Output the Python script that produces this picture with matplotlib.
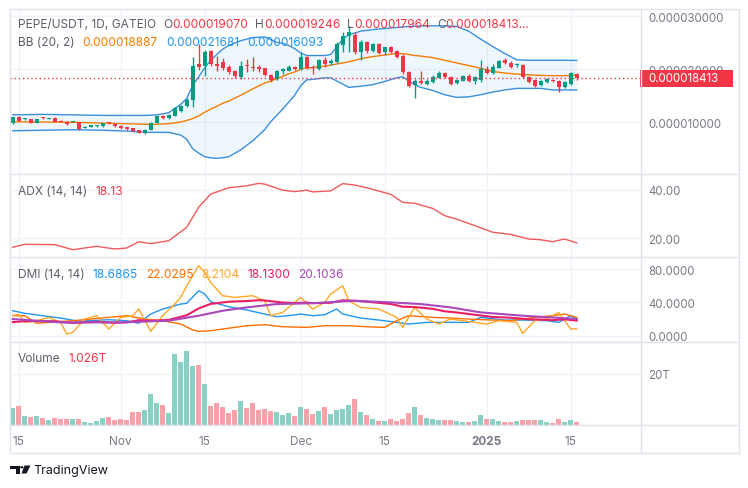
import matplotlib
matplotlib.use("Agg")
import matplotlib.pyplot as plt
import matplotlib.dates as mdates
from matplotlib.patches import Rectangle, Polygon, Circle
from matplotlib.lines import Line2D
from matplotlib.ticker import FuncFormatter
from datetime import date, timedelta

W, H = 748, 489
plt.rcParams['font.family'] = ['Inter', 'DejaVu Sans']

# ---- data (prices in units of 1e-6 USDT, volume in trillions) ----
start = date(2024, 10, 14)
dates = [start + timedelta(days=i) for i in range(95)]

opens = [9.81, 10.94, 10.55, 10.63, 9.94, 10.78, 10.70, 10.88, 10.31, 10.13,
         10.06, 10.00, 8.93, 9.20, 9.22, 9.25, 9.90, 9.75, 9.37, 9.12,
         8.87, 8.55, 7.92, 8.62, 9.94, 11.13, 10.82, 11.26, 12.14, 13.02,
         14.21, 20.95, 20.57, 23.40, 21.00, 21.30, 20.40, 19.75, 18.60, 20.70,
         20.50, 20.50, 20.19, 18.93, 18.10, 19.62, 19.75, 20.37, 20.06, 22.26,
         20.37, 20.06, 21.80, 21.20, 21.40, 24.60, 26.20, 26.48, 23.33, 25.10,
         23.50, 24.80, 23.20, 24.15, 23.50, 22.60, 19.56, 17.04, 17.86, 17.17,
         17.67, 18.43, 19.25, 18.50, 17.36, 17.86, 18.80, 17.80, 17.99, 20.06,
         19.25, 20.30, 21.70, 21.26, 20.85, 20.82, 18.50, 17.99, 17.04, 17.55,
         18.05, 17.80, 16.73, 17.17, 19.07]
closes = [10.94, 10.31, 10.63, 9.94, 10.63, 10.72, 10.78, 10.13, 10.06, 9.62,
          10.13, 8.74, 9.18, 9.25, 9.28, 9.87, 9.85, 9.25, 8.87, 8.68,
          8.30, 8.05, 8.62, 9.94, 11.13, 10.82, 11.45, 12.64, 13.14, 14.21,
          20.69, 20.40, 23.20, 21.00, 20.70, 20.20, 19.43, 18.68, 20.70, 20.57,
          20.30, 20.06, 18.93, 18.05, 19.62, 20.06, 20.50, 20.06, 22.40, 20.19,
          20.19, 21.80, 21.00, 21.60, 24.80, 26.35, 26.98, 23.20, 25.22, 23.40,
          24.80, 23.10, 24.15, 23.20, 22.40, 19.43, 16.92, 17.86, 17.36, 17.80,
          18.62, 19.31, 18.50, 17.23, 17.99, 18.80, 17.86, 18.62, 20.06, 19.25,
          20.50, 21.57, 21.20, 20.50, 20.95, 18.50, 17.67, 16.92, 17.80, 18.18,
          17.80, 16.60, 17.55, 19.25, 18.413]
highs = [11.00, 11.13, 10.75, 10.70, 10.70, 10.95, 10.90, 10.95, 10.40, 10.20,
         10.20, 10.10, 9.25, 9.35, 9.40, 9.95, 10.10, 9.82, 9.45, 9.20,
         8.95, 8.62, 8.70, 10.05, 11.20, 11.35, 11.55, 12.90, 13.35, 14.60,
         22.26, 24.80, 23.70, 23.70, 22.60, 22.10, 20.80, 19.90, 21.57, 21.95,
         22.40, 20.80, 20.30, 19.10, 19.90, 20.25, 20.80, 20.60, 23.20, 22.60,
         20.80, 22.00, 22.26, 21.90, 25.20, 26.98, 28.20, 27.00, 25.50, 25.30,
         25.00, 25.00, 24.30, 24.40, 23.70, 22.80, 19.70, 18.20, 19.75, 18.10,
         18.90, 19.60, 19.50, 18.70, 18.15, 19.00, 19.10, 18.80, 21.80, 20.70,
         21.00, 21.70, 22.07, 21.50, 21.20, 20.95, 18.70, 18.10, 18.00, 18.40,
         18.20, 17.99, 17.70, 19.50, 19.246]
lows = [9.75, 10.25, 10.45, 9.88, 9.88, 10.60, 10.60, 10.05, 9.98, 9.55,
        9.98, 8.60, 8.85, 9.12, 9.15, 9.18, 9.72, 9.18, 8.80, 8.60,
        8.22, 7.98, 7.85, 8.55, 9.85, 10.70, 10.70, 11.20, 12.00, 12.90,
        12.90, 19.90, 18.80, 20.70, 19.60, 19.90, 19.10, 18.40, 18.20, 19.43,
        19.75, 19.40, 18.70, 17.55, 17.90, 19.06, 19.60, 19.90, 19.90, 20.00,
        19.06, 19.90, 20.40, 20.90, 21.20, 23.20, 23.20, 22.90, 21.80, 23.10,
        23.30, 22.90, 22.70, 23.00, 22.20, 19.20, 16.60, 14.53, 17.20, 16.95,
        17.50, 18.30, 18.30, 17.00, 17.15, 17.70, 17.60, 17.30, 17.67, 19.10,
        19.10, 20.20, 21.00, 20.30, 20.40, 18.30, 17.50, 16.70, 16.90, 17.40,
        17.67, 15.80, 16.50, 17.00, 17.964]
volumes = [6.7, 7.5, 3.5, 3.1, 3.5, 2.7, 2.0, 2.7, 2.4, 2.4,
           2.4, 2.4, 1.2, 0.8, 1.6, 2.7, 3.1, 2.0, 2.4, 2.0,
           5.1, 5.1, 5.9, 12.2, 8.6, 7.8, 4.7, 27.8, 24.7, 29.0,
           23.1, 23.5, 16.1, 7.5, 8.6, 7.1, 4.7, 5.9, 9.4, 6.7,
           8.6, 5.9, 6.3, 5.5, 5.1, 3.9, 4.7, 3.5, 7.1, 6.3,
           4.3, 5.5, 7.1, 4.3, 5.9, 6.3, 7.8, 10.2, 5.1, 3.9,
           2.4, 1.6, 1.6, 2.4, 1.6, 2.4, 4.7, 7.1, 3.9, 2.7,
           2.4, 2.0, 2.0, 2.0, 1.6, 1.2, 1.2, 1.6, 3.9, 2.4,
           2.4, 1.6, 1.2, 1.2, 1.6, 2.0, 2.0, 2.0, 2.0, 1.2,
           0.8, 2.4, 1.2, 2.0, 1.026]

# Bollinger bands (20, 2) at these day offsets
bb_days = [0, 5, 10, 15, 20, 22, 24, 26, 28, 29, 30, 31, 32, 33, 34, 35, 36, 38, 40, 42,
           43, 44, 45, 46, 47, 48, 49, 50, 52, 53, 54, 55, 56, 58, 60, 62, 64, 65, 66, 67,
           68, 70, 72, 74, 76, 78, 80, 82, 84, 86, 88, 90, 92, 94]
bb_upper = [11.4, 11.5, 11.4, 11.3, 11.3, 11.3, 11.4, 11.8, 13.4, 14.5, 17.0, 18.6, 20.3, 21.7, 22.8, 23.8, 24.5, 25.4, 26.0, 26.1,
            25.6, 25.1, 24.9, 24.5, 23.9, 23.1, 22.6, 22.6, 22.6, 22.8, 24.2, 25.7, 26.5, 27.2, 27.5, 27.7, 27.9, 28.0, 28.1, 28.1,
            28.2, 28.2, 28.2, 28.1, 27.2, 25.7, 24.3, 23.0, 21.8, 21.7, 21.7, 21.7, 21.7, 21.681]
bb_mid = [10.1, 10.05, 10.0, 9.85, 9.7, 9.62, 9.62, 9.75, 10.05, 10.35, 10.7, 11.2, 11.9, 12.5, 13.0, 13.6, 14.0, 15.1, 16.3, 17.4,
          17.8, 18.2, 18.7, 19.15, 19.5, 20.0, 20.3, 20.3, 20.6, 20.8, 21.0, 21.2, 21.4, 22.0, 22.4, 22.7, 23.0, 22.95, 22.8, 22.6,
          22.5, 22.2, 21.7, 21.2, 20.7, 20.2, 19.6, 19.3, 19.1, 18.95, 18.85, 18.8, 18.8, 18.887]
bb_lower = [8.4, 8.5, 8.6, 8.5, 8.3, 8.1, 8.1, 8.1, 7.6, 6.8, 5.0, 4.2, 3.5, 3.3, 3.2, 3.3, 3.5, 4.8, 6.5, 8.6,
            10.1, 11.3, 12.5, 13.8, 15.1, 16.9, 18.0, 18.1, 18.4, 18.4, 17.8, 17.2, 16.6, 16.8, 17.1, 17.7, 18.4, 18.6, 17.8, 17.1,
            16.6, 16.0, 15.2, 14.7, 14.8, 15.2, 15.7, 16.1, 16.4, 16.4, 16.4, 16.1, 16.1, 16.093]

adx_days = [0, 2, 7, 10, 14, 17, 19, 21, 23, 26, 29, 31, 33, 36, 39, 41, 42, 45, 47, 49,
            50, 53, 55, 57, 59, 63, 65, 67, 70, 72, 74, 77, 80, 83, 86, 88, 90, 92, 94]
adx = [16.3, 17.5, 17.4, 15.3, 16.7, 15.6, 16.0, 18.6, 17.8, 19.0, 24.5, 32.8, 38.2, 40.8, 41.6, 42.6, 42.3, 39.8, 39.2, 39.8,
       39.1, 39.5, 42.5, 41.9, 40.8, 38.1, 34.8, 34.4, 32.3, 29.3, 27.9, 25.2, 22.5, 21.6, 19.7, 19.4, 18.6, 19.7, 18.13]

pdi_days = [0, 2, 5, 8, 11, 16, 19, 21, 23, 25, 28, 29, 31, 32, 33, 36, 39, 42, 44, 46,
            48, 50, 52, 54, 55, 58, 61, 64, 66, 69, 73, 76, 78, 82, 85, 89, 91, 93, 94]
pdi = [30.0, 26.9, 24.0, 21.2, 17.3, 19.2, 18.0, 14.9, 26.0, 32.0, 38.0, 38.9, 54.0, 50.0, 40.8, 34.8, 30.9, 26.0, 22.8, 24.0,
       26.0, 24.0, 25.2, 32.0, 26.0, 21.2, 18.8, 16.1, 14.0, 16.0, 16.0, 16.0, 22.0, 18.8, 18.8, 18.0, 16.0, 24.0, 18.6865]

mdi_days = [0, 2, 4, 6, 10, 13, 16, 19, 22, 25, 28, 30, 31, 33, 35, 39, 42, 45, 49, 52,
            56, 59, 62, 64, 66, 70, 73, 76, 80, 83, 87, 90, 92, 94]
mdi = [24, 24, 15, 16, 18, 20, 22, 24, 20, 18, 14, 7, 5.2, 6, 8, 12, 13.2, 10.8, 10, 12,
       12, 10.8, 10, 18, 24, 22, 21.2, 20, 18.8, 18, 22, 24, 26, 22.0295]

dx_days = [0, 1, 2, 4, 6, 8, 9, 10, 12, 14, 16, 18, 20, 21, 23, 25, 27, 28, 29, 31,
           32, 33, 35, 37, 40, 42, 43, 45, 48, 50, 52, 53, 55, 56, 58, 61, 64, 65, 67, 69,
           71, 73, 75, 79, 81, 84, 85, 87, 89, 91, 93, 94]
dx = [24, 25.6, 16, 18, 22, 16, 2, 4, 20, 24, 8, 22, 24, 32, 5.2, 24, 38, 46, 60, 84,
      76, 64, 48, 46, 48, 42, 24, 28, 46, 32, 40, 50, 60, 42, 34, 32, 22, 10, 34, 20,
      14, 20, 18, 14, 18, 16, 2.8, 18, 20, 28, 8, 8.2104]

adxr_days = [0, 8, 18, 26, 31, 35, 39, 44, 50, 57, 63, 68, 73, 78, 85, 94]
adxr = [20, 16, 16, 18, 24, 30, 34, 38, 39, 42, 40, 38, 34, 28, 24, 20.1036]

tick_dates = [date(2024, 10, 15), date(2024, 11, 1), date(2024, 11, 15), date(2024, 12, 1),
              date(2024, 12, 15), date(2025, 1, 1), date(2025, 1, 15)]
tick_labels = ['15', 'Nov', '15', 'Dec', '15', '2025', '15']

# ---- colours ----
UP, DOWN = '#089981', '#F23645'
VUP, VDOWN = '#8ad0c4', '#f7a1a9'
GRID = '#f0f2f7'
BORDER = '#e0e3eb'
AXC = '#787b86'
TXT = '#5d606b'

x = mdates.date2num(dates)
x0 = x[0] - 0.45
x1 = x[0] + 104.72


def dn(days):
    return [x[0] + d for d in days]


fig = plt.figure(figsize=(W / 100, H / 100), dpi=100)
fig.patch.set_facecolor('white')


def pane(y0, y1, ylim, ticks, fmt):
    ax = fig.add_axes([10 / W, 1 - y1 / H, (641 - 10) / W, (y1 - y0) / H])
    for s in ax.spines.values():
        s.set_visible(False)
    ax.set_xlim(x0, x1)
    ax.set_ylim(*ylim)
    ax.set_xticks(mdates.date2num(tick_dates))
    ax.set_yticks(ticks)
    ax.yaxis.tick_right()
    ax.yaxis.set_major_formatter(FuncFormatter(fmt))
    ax.tick_params(axis='y', length=0, pad=5, labelsize=8.3, labelcolor=AXC)
    ax.tick_params(axis='x', length=0, labelbottom=False)
    ax.grid(True, color=GRID, lw=1)
    ax.set_axisbelow(True)
    return ax


ax_p = pane(10, 175, (0.245, 31.38), [10, 20, 30], lambda v, _: f"{v * 1e-6:.9f}")
ax_a = pane(175, 258, (12.3, 46.46), [20, 40], lambda v, _: f"{v:.2f}")
ax_d = pane(258, 343, (-7.56, 94.5), [0, 40, 80], lambda v, _: f"{v:.4f}")
ax_v = pane(343, 426, (0, 32.5), [20], lambda v, _: f"{v:.0f}T")

# price pane: bands + candles
ax_p.fill_between(dn(bb_days), bb_lower, bb_upper, color='#2196F3', alpha=0.07, lw=0)
ax_p.plot(dn(bb_days), bb_upper, color='#3a8fdc', lw=1)
ax_p.plot(dn(bb_days), bb_lower, color='#3a8fdc', lw=1)
ax_p.plot(dn(bb_days), bb_mid, color='#F57C00', lw=1)
for xi, o, h, l, c in zip(x, opens, highs, lows, closes):
    col = UP if c >= o else DOWN
    ax_p.vlines(xi, l, h, color=col, lw=1, zorder=3)
    ax_p.bar(xi, max(abs(c - o), 0.2), bottom=min(o, c), width=0.72, color=col, zorder=4)
ax_p.axhline(closes[-1], color=DOWN, lw=1, ls=(0, (1, 2)), zorder=5)

# ADX pane
ax_a.plot(dn(adx_days), adx, color='#F05A5A', lw=1)

# DMI pane
ax_d.plot(dn(pdi_days), pdi, color='#2196F3', lw=1)
ax_d.plot(dn(mdi_days), mdi, color='#FF6D00', lw=1)
ax_d.plot(dn(dx_days), dx, color='#FFA726', lw=1)
ax_d.plot(dn(adx_days), adx, color='#E91E63', lw=1.5)
ax_d.plot(dn(adxr_days), adxr, color='#AB47BC', lw=1.5)

# volume pane
vcols = [VUP if c >= o else VDOWN for o, c in zip(opens, closes)]
ax_v.bar(x, volumes, width=0.75, color=vcols, zorder=3)
ax_v.tick_params(axis='x', labelbottom=True, labelsize=8.5, labelcolor=AXC, pad=7)
ax_v.set_xticklabels(tick_labels)
for lab in ax_v.get_xticklabels():
    if lab.get_text() == '2025':
        lab.set_fontweight('bold')


# ---- frame and separators (pixel coordinates) ----
def fline(xa, ya, xb, yb, col=BORDER, lw=1):
    fig.add_artist(Line2D([xa / W, xb / W], [1 - ya / H, 1 - yb / H], color=col, lw=lw))


fig.add_artist(Rectangle((9.5 / W, 1 - 453.5 / H), 729 / W, 444 / H, fill=False,
                         edgecolor=BORDER, lw=1))
fline(641, 10, 641, 453)
for yy in (175, 258, 343, 426):
    fline(10, yy, 738, yy)

# last price tag
fig.add_artist(Rectangle((640 / W, 1 - 87.8 / H), 93 / W, 16.5 / H, color=DOWN, lw=0))
fig.text(648 / W, 1 - 79.5 / H, '0.000018413', color='white', fontsize=8.3, va='center')

# ---- legends ----
rend = fig.canvas.get_renderer()


def row(xp, yp, parts, size=8.6):
    for txt, col, gap in parts:
        t = fig.text(xp / W, 1 - yp / H, txt, color=col, fontsize=size, va='center', ha='left')
        xp += t.get_window_extent(renderer=rend).width + gap


row(18, 25, [('PEPE/USDT, 1D, GATEIO', TXT, 7), ('O', TXT, 0), ('0.000019070', DOWN, 7),
             ('H', TXT, 0), ('0.000019246', DOWN, 7), ('L', TXT, 0), ('0.000017964', DOWN, 7),
             ('C', TXT, 0), ('0.000018413...', DOWN, 0)])
row(18, 43, [('BB (20, 2)', TXT, 8), ('0.000018887', '#F57C00', 8),
             ('0.000021681', '#2196F3', 8), ('0.000016093', '#2196F3', 0)])
row(18, 192, [('ADX (14, 14)', TXT, 8), ('18.13', DOWN, 0)])
row(18, 275, [('DMI (14, 14)', TXT, 8), ('18.6865', '#2196F3', 8), ('22.0295', '#FF6D00', 8),
              ('8.2104', '#FFA726', 8), ('18.1300', '#E91E63', 8), ('20.1036', '#AB47BC', 0)])
row(18, 359, [('Volume', TXT, 8), ('1.026T', DOWN, 0)])

# ---- TradingView logo ----
def fp(pts):
    return [(px / W, 1 - py / H) for px, py in pts]


fig.add_artist(Polygon(fp([(10, 466.5), (19.5, 466.5), (19.5, 474.5), (15.5, 474.5),
                           (15.5, 470), (10, 470)]), closed=True, color='#131722', lw=0))
fig.add_artist(Circle((21.8 / W, 1 - 468.3 / H), 1.7 / W, color='#131722', lw=0))
fig.add_artist(Polygon(fp([(24.5, 466.5), (30.5, 466.5), (26.5, 474.5), (21.5, 474.5)]),
                       closed=True, color='#131722', lw=0))
fig.text(33 / W, 1 - 471 / H, 'TradingView', color='#131722', fontsize=9, va='center')

fig.savefig('out.png', dpi=100)
